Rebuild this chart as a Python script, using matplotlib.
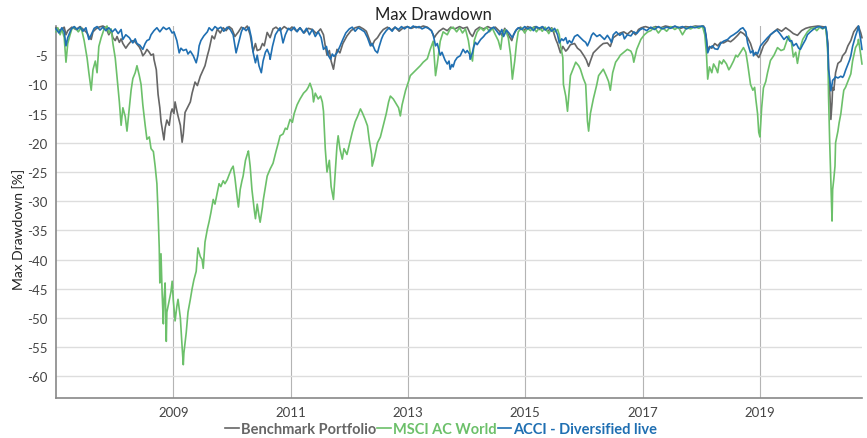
import numpy as np
import matplotlib.pyplot as plt

plt.rcParams['font.family'] = ['Lato', 'DejaVu Sans']

# series names / colours
names = ['Benchmark Portfolio', 'MSCI AC World', 'ACCI - Diversified live']
colors = ['#666666', '#6cc06a', '#1f6fb2']

# MSCI AC World drawdown (decimal year, %)
msci_t = [2007.00, 2007.03, 2007.07, 2007.10, 2007.14, 2007.17, 2007.20, 2007.24, 2007.27, 2007.32,
          2007.38, 2007.43, 2007.48, 2007.53, 2007.56, 2007.60, 2007.63, 2007.67, 2007.70, 2007.73,
          2007.77, 2007.82, 2007.87, 2007.90, 2007.94, 2007.97,
          2008.01, 2008.04, 2008.08, 2008.11, 2008.14, 2008.18, 2008.21, 2008.25, 2008.28, 2008.31,
          2008.35, 2008.38, 2008.42, 2008.45, 2008.48, 2008.52, 2008.55, 2008.59, 2008.62, 2008.66,
          2008.69, 2008.72, 2008.74, 2008.76, 2008.77, 2008.79, 2008.81, 2008.83, 2008.84, 2008.86,
          2008.88, 2008.89, 2008.93, 2008.96, 2008.98,
          2009.00, 2009.03, 2009.06, 2009.08, 2009.12, 2009.15, 2009.17, 2009.18, 2009.22, 2009.25,
          2009.29, 2009.32, 2009.35, 2009.39, 2009.42, 2009.46, 2009.49, 2009.51, 2009.54, 2009.58,
          2009.61, 2009.64, 2009.68, 2009.71, 2009.75, 2009.78, 2009.81, 2009.85, 2009.88, 2009.92,
          2009.95, 2009.99,
          2010.02, 2010.05, 2010.09, 2010.11, 2010.14, 2010.17, 2010.19, 2010.23, 2010.26, 2010.28,
          2010.31, 2010.34, 2010.38, 2010.40, 2010.43, 2010.46, 2010.48, 2010.52, 2010.53, 2010.57,
          2010.60, 2010.65, 2010.70, 2010.75, 2010.79, 2010.82, 2010.87, 2010.91, 2010.94, 2010.99,
          2011.03, 2011.06, 2011.11, 2011.16, 2011.22, 2011.27, 2011.30, 2011.33, 2011.37, 2011.39,
          2011.42, 2011.47, 2011.51, 2011.54, 2011.56, 2011.59, 2011.62, 2011.66, 2011.69, 2011.73,
          2011.76, 2011.79, 2011.81, 2011.84, 2011.88, 2011.91, 2011.96,
          2012.02, 2012.05, 2012.10, 2012.14, 2012.19, 2012.22, 2012.27, 2012.31, 2012.34, 2012.38,
          2012.39, 2012.43, 2012.48, 2012.53, 2012.58, 2012.63, 2012.67, 2012.70, 2012.75, 2012.78,
          2012.84, 2012.87, 2012.90, 2012.96,
          2013.01, 2013.04, 2013.09, 2013.14, 2013.21, 2013.26, 2013.33, 2013.38, 2013.43, 2013.47,
          2013.50, 2013.55, 2013.60, 2013.67, 2013.72, 2013.77, 2013.83, 2013.88, 2013.93, 2013.98,
          2014.03, 2014.06, 2014.10, 2014.13, 2014.18, 2014.24, 2014.29, 2014.34, 2014.39, 2014.44,
          2014.49, 2014.54, 2014.58, 2014.61, 2014.66, 2014.71, 2014.75, 2014.78, 2014.82, 2014.85,
          2014.88, 2014.94, 2014.99,
          2015.04, 2015.09, 2015.14, 2015.19, 2015.24, 2015.29, 2015.34, 2015.40, 2015.45, 2015.50,
          2015.55, 2015.58, 2015.60, 2015.64, 2015.65, 2015.69, 2015.72, 2015.75, 2015.77, 2015.81,
          2015.86, 2015.91, 2015.94, 2015.99,
          2016.03, 2016.06, 2016.08, 2016.11, 2016.16, 2016.22, 2016.25, 2016.30, 2016.33, 2016.38,
          2016.42, 2016.45, 2016.49, 2016.54, 2016.59, 2016.62, 2016.68, 2016.74, 2016.80, 2016.83,
          2016.85, 2016.90, 2016.97,
          2017.03, 2017.09, 2017.14, 2017.20, 2017.27, 2017.34, 2017.41, 2017.48, 2017.55, 2017.61,
          2017.68, 2017.75, 2017.82, 2017.89, 2017.96,
          2018.02, 2018.06, 2018.09, 2018.11, 2018.14, 2018.18, 2018.21, 2018.25, 2018.28, 2018.31,
          2018.35, 2018.38, 2018.43, 2018.47, 2018.50, 2018.55, 2018.59, 2018.62, 2018.67, 2018.72,
          2018.76, 2018.79, 2018.84, 2018.88, 2018.91, 2018.93, 2018.96, 2018.98,
          2019.00, 2019.03, 2019.06, 2019.10, 2019.13, 2019.18, 2019.24, 2019.30, 2019.36, 2019.41,
          2019.46, 2019.49, 2019.54, 2019.57, 2019.61, 2019.64, 2019.68, 2019.73, 2019.78, 2019.81,
          2019.86, 2019.92, 2019.97,
          2020.02, 2020.07, 2020.12, 2020.14, 2020.16, 2020.17, 2020.19, 2020.21, 2020.23, 2020.24,
          2020.26, 2020.28, 2020.29, 2020.33, 2020.35, 2020.38, 2020.41, 2020.43, 2020.46, 2020.50,
          2020.55, 2020.58, 2020.63, 2020.67, 2020.68, 2020.72, 2020.74]
msci_dd = [-1.0, -0.3, -1.5, -0.5, -2.0, -6.2, -3.0, -1.5, -0.5, -0.2,
           -1.0, -0.3, -2.5, -5.5, -8.0, -11.0, -7.5, -6.0, -8.0, -3.5,
           -2.0, -0.5, 0.0, -1.2, -0.5, -3.0,
           -5.5, -8.7, -13.0, -17.0, -14.0, -15.5, -18.0, -14.0, -11.0, -9.0,
           -8.0, -6.8, -8.5, -10.0, -13.5, -17.0, -19.4, -19.0, -21.0, -21.5,
           -24.0, -27.0, -32.0, -38.0, -44.0, -39.0, -46.0, -51.0, -47.0, -44.0,
           -54.0, -49.0, -47.0, -45.5, -43.7,
           -47.0, -50.5, -48.0, -46.8, -50.0, -55.0, -58.0, -56.0, -52.5, -49.0,
           -46.8, -45.0, -43.5, -42.0, -38.0, -39.5, -40.0, -41.5, -37.0, -34.8,
           -33.5, -32.0, -29.7, -30.5, -28.5, -27.0, -27.5, -26.5, -27.0, -26.3,
           -25.5, -24.5,
           -24.0, -26.0, -29.5, -31.0, -28.0, -26.5, -25.7, -23.0, -22.0, -21.4,
           -24.0, -28.0, -31.5, -33.0, -30.5, -32.5, -33.6, -31.0, -30.0, -27.5,
           -25.7, -24.5, -23.5, -21.5, -20.0, -18.8, -18.5, -17.5, -17.7, -16.0,
           -16.5, -15.0, -13.5, -12.5, -11.5, -11.0, -10.5, -9.8, -11.0, -13.0,
           -11.5, -12.5, -12.0, -13.0, -14.6, -21.0, -25.0, -23.0, -27.5, -29.7,
           -25.0, -20.5, -18.8, -21.0, -22.8, -21.0, -22.0,
           -19.5, -18.2, -16.4, -15.5, -14.2, -14.8, -16.0, -17.1, -19.5, -22.0,
           -24.0, -22.5, -20.0, -19.0, -17.0, -15.0, -13.0, -12.0, -12.5, -13.0,
           -14.0, -15.4, -13.5, -11.0,
           -9.5, -8.5, -8.0, -7.5, -6.8, -6.2, -5.6, -4.0, -2.6, -8.5,
           -6.5, -2.6, -1.0, -1.5, -0.5, -0.2, -1.0, -0.3, -1.2, -0.5,
           -2.5, -4.5, -6.0, -2.5, -1.0, -0.3, -0.8, -0.2, -1.0, -0.4,
           -1.5, -2.5, -4.0, -1.5, -0.6, -2.0, -5.0, -9.1, -6.0, -3.0,
           -1.0, -0.3, -1.2,
           -0.4, -0.8, -0.2, -1.0, -0.3, -0.9, -0.2, -1.3, -0.4, -1.0,
           -0.6, -1.5, -3.3, -5.4, -10.0, -12.0, -14.6, -11.0, -8.5, -7.5,
           -6.2, -6.8, -7.4, -9.0,
           -10.0, -16.3, -18.0, -15.0, -12.5, -10.0, -8.5, -7.8, -7.4, -8.5,
           -9.5, -11.0, -8.0, -6.2, -5.5, -5.0, -4.5, -4.0, -4.3, -5.0,
           -6.2, -4.0, -2.3,
           -1.5, -1.0, -0.8, -0.2, -1.2, -0.3, -0.9, -0.1, -0.6, -0.2,
           -1.5, -0.3, -0.5, -0.1, -0.4,
           0.0, -1.5, -5.0, -9.1, -7.0, -8.0, -6.5, -7.2, -8.0, -6.0,
           -6.5, -5.8, -6.5, -7.5, -7.0, -6.0, -5.0, -5.3, -4.5, -3.7,
           -4.5, -6.4, -10.0, -11.0, -10.5, -12.5, -15.0, -18.2,
           -19.0, -14.0, -10.6, -9.5, -8.0, -5.9, -5.0, -3.7, -4.2, -4.0,
           -2.5, -1.7, -3.0, -5.3, -4.5, -6.4, -4.0, -2.3, -1.5, -1.0,
           -0.5, -0.3, -0.8,
           -0.2, -0.5, -0.2, -2.0, -5.3, -12.0, -20.0, -27.0, -33.4, -28.0,
           -26.2, -24.0, -20.0, -18.0, -16.6, -15.0, -12.5, -11.0, -10.5, -9.5,
           -8.2, -6.0, -3.7, -3.0, -2.3, -5.0, -6.5]

# Benchmark Portfolio drawdown
bench_t = [2007.00, 2007.07, 2007.14, 2007.17, 2007.20, 2007.27, 2007.34, 2007.41, 2007.48, 2007.53,
           2007.56, 2007.60, 2007.63, 2007.68, 2007.73, 2007.80, 2007.85, 2007.90, 2007.94, 2007.97,
           2008.01, 2008.04, 2008.08, 2008.11, 2008.14, 2008.19, 2008.23, 2008.28, 2008.33, 2008.37,
           2008.42, 2008.45, 2008.48, 2008.52, 2008.55, 2008.59, 2008.62, 2008.66, 2008.67, 2008.71,
           2008.74, 2008.77, 2008.79, 2008.83, 2008.84, 2008.86, 2008.89, 2008.93, 2008.96, 2008.98,
           2009.01, 2009.03, 2009.06, 2009.08, 2009.12, 2009.15, 2009.17, 2009.20, 2009.24, 2009.29,
           2009.32, 2009.37, 2009.41, 2009.46, 2009.51, 2009.54, 2009.58, 2009.61, 2009.66, 2009.70,
           2009.75, 2009.80, 2009.85, 2009.90, 2009.95,
           2010.00, 2010.05, 2010.11, 2010.16, 2010.21, 2010.26, 2010.31, 2010.36, 2010.40, 2010.43,
           2010.48, 2010.52, 2010.55, 2010.60, 2010.65, 2010.70, 2010.75, 2010.82, 2010.89, 2010.96,
           2011.03, 2011.10, 2011.16, 2011.23, 2011.30, 2011.37, 2011.44, 2011.51, 2011.56, 2011.59,
           2011.62, 2011.66, 2011.69, 2011.73, 2011.76, 2011.79, 2011.84, 2011.89, 2011.96,
           2012.03, 2012.10, 2012.17, 2012.24, 2012.29, 2012.32, 2012.36, 2012.39, 2012.43, 2012.48,
           2012.53, 2012.58, 2012.65, 2012.72, 2012.78, 2012.85, 2012.92, 2012.99,
           2013.06, 2013.13, 2013.19, 2013.26, 2013.33, 2013.40, 2013.45, 2013.48, 2013.53, 2013.60,
           2013.67, 2013.73, 2013.80, 2013.88, 2013.94,
           2014.01, 2014.06, 2014.10, 2014.15, 2014.22, 2014.29, 2014.36, 2014.42, 2014.49, 2014.56,
           2014.60, 2014.65, 2014.71, 2014.77, 2014.80, 2014.85, 2014.92, 2014.97,
           2015.04, 2015.11, 2015.17, 2015.24, 2015.31, 2015.38, 2015.45, 2015.48, 2015.52, 2015.55,
           2015.60, 2015.64, 2015.69, 2015.72, 2015.77, 2015.84, 2015.89, 2015.94,
           2016.00, 2016.04, 2016.08, 2016.11, 2016.16, 2016.22, 2016.28, 2016.33, 2016.40, 2016.45,
           2016.50, 2016.57, 2016.62, 2016.68, 2016.74, 2016.81, 2016.88, 2016.93, 2016.98,
           2017.05, 2017.14, 2017.22, 2017.31, 2017.39, 2017.48, 2017.56, 2017.65, 2017.73, 2017.82,
           2017.90, 2017.99,
           2018.04, 2018.08, 2018.11, 2018.14, 2018.18, 2018.23, 2018.28, 2018.33, 2018.38, 2018.45,
           2018.50, 2018.55, 2018.62, 2018.67, 2018.72, 2018.79, 2018.84, 2018.89, 2018.95, 2018.98,
           2019.01, 2019.06, 2019.13, 2019.18, 2019.24, 2019.30, 2019.37, 2019.44, 2019.51, 2019.57,
           2019.64, 2019.71, 2019.78, 2019.85, 2019.92, 2019.99,
           2020.05, 2020.12, 2020.16, 2020.17, 2020.19, 2020.21, 2020.23, 2020.24, 2020.26, 2020.29,
           2020.33, 2020.38, 2020.41, 2020.46, 2020.50, 2020.55, 2020.60, 2020.65, 2020.68, 2020.72,
           2020.74]
bench_dd = [-0.3, -0.8, -0.2, -1.5, -0.8, -0.2, -0.6, -0.1, -0.7, -1.2,
            -1.8, -2.3, -1.0, -0.5, -0.2, 0.0, -0.3, -1.5, -0.8, -2.0,
            -2.5, -1.8, -2.8, -2.2, -3.0, -3.8, -3.2, -2.6, -2.5, -3.0,
            -3.6, -4.2, -5.1, -4.6, -4.0, -4.5, -5.0, -4.8, -5.7, -7.5,
            -11.7, -14.0, -16.3, -18.9, -19.5, -17.5, -16.1, -17.0, -14.8, -14.2,
            -15.0, -13.0, -14.5, -15.4, -17.0, -19.9, -18.5, -14.8, -14.0, -13.0,
            -11.5, -9.6, -10.2, -8.6, -7.5, -6.8, -5.1, -4.0, -1.7, -2.2,
            -0.5, -1.2, -0.3, -0.8, -0.1,
            -0.5, -1.8, -1.0, -0.2, -0.5, 0.0, -1.5, -4.4, -3.0, -4.2,
            -4.0, -3.0, -3.4, -1.1, -2.0, -0.5, -0.2, -0.8, -0.1, -0.6,
            -0.2, -0.9, -0.3, -1.2, -0.4, -0.6, -1.3, -0.5, -1.5, -3.4,
            -5.0, -4.2, -6.0, -7.4, -5.5, -4.0, -4.6, -3.0, -1.7,
            -0.8, -0.3, -0.1, -0.5, -0.9, -1.7, -2.8, -3.4, -2.5, -2.0,
            -1.2, -0.6, -0.2, -0.7, -0.2, -0.9, -0.3, -0.1,
            -0.4, -0.1, -0.3, 0.0, -0.2, -0.8, -2.0, -1.5, -0.9, -0.4,
            -0.8, -0.2, -0.5, -0.1, -0.4,
            -0.2, -1.3, -1.8, -0.7, -0.2, -0.5, -0.1, -0.4, -0.2, -0.9,
            -1.6, -0.4, -1.5, -2.5, -1.5, -0.6, -0.2, -0.8,
            -0.1, -0.4, -0.1, -0.6, -0.2, -0.9, -0.3, -1.0, -2.3, -3.0,
            -4.6, -3.5, -4.3, -4.0, -3.2, -3.0, -3.8, -4.2,
            -5.1, -5.8, -6.9, -6.0, -4.6, -4.0, -3.4, -3.0, -2.9, -3.5,
            -2.0, -1.5, -1.2, -1.0, -1.4, -0.8, -1.5, -0.6, -0.3,
            -0.1, -0.4, -0.1, -0.3, 0.0, -0.2, -0.1, -0.4, -0.1, -0.2,
            0.0, -0.1,
            0.0, -1.5, -4.3, -3.5, -3.8, -3.0, -3.4, -2.8, -2.9, -2.5,
            -2.7, -2.3, -1.6, -1.0, -1.3, -2.0, -3.0, -4.6, -5.0, -5.4,
            -4.8, -3.4, -2.5, -1.5, -1.0, -0.5, -0.9, -0.3, -0.8, -1.3,
            -1.6, -0.8, -0.4, -0.2, -0.1, 0.0,
            -0.1, -0.2, -3.0, -7.0, -11.0, -16.0, -13.0, -10.5, -11.0, -8.0,
            -6.4, -6.0, -5.1, -4.5, -3.4, -2.5, -1.0, -0.3, 0.0, -1.2,
            -2.0]

# ACCI - Diversified live drawdown
acci_t = [2007.00, 2007.05, 2007.10, 2007.14, 2007.17, 2007.20, 2007.26, 2007.31, 2007.36, 2007.41,
          2007.46, 2007.51, 2007.56, 2007.60, 2007.65, 2007.70, 2007.75, 2007.80, 2007.85, 2007.90,
          2007.96,
          2008.01, 2008.06, 2008.11, 2008.14, 2008.19, 2008.25, 2008.28, 2008.31, 2008.35, 2008.38,
          2008.43, 2008.48, 2008.52, 2008.55, 2008.59, 2008.62, 2008.67, 2008.72, 2008.77, 2008.83,
          2008.88, 2008.93, 2008.98,
          2009.01, 2009.06, 2009.10, 2009.13, 2009.17, 2009.22, 2009.25, 2009.29, 2009.34, 2009.37,
          2009.39, 2009.42, 2009.44, 2009.47, 2009.52, 2009.58, 2009.61, 2009.66, 2009.71, 2009.76,
          2009.81, 2009.86, 2009.92, 2009.97,
          2010.02, 2010.07, 2010.11, 2010.16, 2010.19, 2010.24, 2010.29, 2010.33, 2010.36, 2010.40,
          2010.43, 2010.46, 2010.50, 2010.53, 2010.57, 2010.60, 2010.64, 2010.65, 2010.69, 2010.74,
          2010.77, 2010.82, 2010.87, 2010.91, 2010.96,
          2011.01, 2011.06, 2011.11, 2011.16, 2011.22, 2011.27, 2011.32, 2011.37, 2011.42, 2011.47,
          2011.52, 2011.56, 2011.61, 2011.64, 2011.68, 2011.71, 2011.74, 2011.79, 2011.84, 2011.89,
          2011.94,
          2012.00, 2012.05, 2012.10, 2012.15, 2012.20, 2012.26, 2012.31, 2012.36, 2012.39, 2012.44,
          2012.48, 2012.51, 2012.55, 2012.58, 2012.63, 2012.68, 2012.73, 2012.78, 2012.84, 2012.89,
          2012.94, 2012.99,
          2013.04, 2013.09, 2013.14, 2013.19, 2013.24, 2013.30, 2013.35, 2013.40, 2013.43, 2013.47,
          2013.50, 2013.55, 2013.58, 2013.63, 2013.67, 2013.70, 2013.72, 2013.75, 2013.77, 2013.80,
          2013.84, 2013.89, 2013.94, 2013.98,
          2014.01, 2014.05, 2014.06, 2014.10, 2014.12, 2014.15, 2014.18, 2014.24, 2014.29, 2014.32,
          2014.36, 2014.41, 2014.46, 2014.51, 2014.56, 2014.60, 2014.63, 2014.68, 2014.73, 2014.78,
          2014.83, 2014.88, 2014.94, 2014.99,
          2015.04, 2015.09, 2015.14, 2015.19, 2015.24, 2015.29, 2015.34, 2015.40, 2015.45, 2015.50,
          2015.55, 2015.58, 2015.62, 2015.65, 2015.69, 2015.72, 2015.75, 2015.79, 2015.84, 2015.89,
          2015.94, 2015.99,
          2016.03, 2016.06, 2016.10, 2016.13, 2016.16, 2016.22, 2016.27, 2016.32, 2016.35, 2016.40,
          2016.44, 2016.47, 2016.50, 2016.55, 2016.61, 2016.66, 2016.69, 2016.74, 2016.80, 2016.85,
          2016.90, 2016.95,
          2017.00, 2017.07, 2017.14, 2017.20, 2017.27, 2017.34, 2017.41, 2017.48, 2017.55, 2017.61,
          2017.68, 2017.75, 2017.82, 2017.89, 2017.96,
          2018.02, 2018.06, 2018.09, 2018.11, 2018.14, 2018.19, 2018.23, 2018.28, 2018.33, 2018.38,
          2018.45, 2018.50, 2018.55, 2018.62, 2018.67, 2018.71, 2018.76, 2018.79, 2018.84, 2018.88,
          2018.89, 2018.93, 2018.96,
          2019.01, 2019.06, 2019.13, 2019.18, 2019.24, 2019.29, 2019.34, 2019.41, 2019.46, 2019.51,
          2019.54, 2019.57, 2019.62, 2019.66, 2019.69, 2019.73, 2019.78, 2019.81, 2019.86, 2019.92,
          2019.97,
          2020.02, 2020.07, 2020.12, 2020.14, 2020.16, 2020.17, 2020.19, 2020.21, 2020.23, 2020.24,
          2020.26, 2020.29, 2020.33, 2020.38, 2020.41, 2020.43, 2020.46, 2020.50, 2020.53, 2020.55,
          2020.58, 2020.63, 2020.67, 2020.68, 2020.72, 2020.74]
acci_dd = [-0.5, -1.2, -0.3, -1.0, -3.4, -2.0, -0.5, -0.1, -0.6, -0.2,
           -0.9, -0.3, -2.3, -1.5, -0.4, -0.1, -0.7, -0.2, -0.8, -0.3,
           -1.0,
           -0.5, -1.3, -0.6, -2.3, -1.5, -2.0, -2.5, -2.9, -2.2, -3.0,
           -3.3, -4.0, -3.0, -2.5, -2.3, -1.5, -0.8, -0.3, -1.0, -0.2,
           -0.6, -0.3, -1.2,
           -1.0, -2.5, -4.6, -3.8, -4.2, -4.0, -4.8, -4.3, -5.1, -5.8,
           -6.3, -5.0, -3.4, -2.5, -1.7, -1.0, -0.3, -0.8, -0.1, -0.5,
           -0.2, -0.9, -0.2, -0.6,
           -1.5, -4.6, -3.0, -1.0, -0.3, -0.8, -0.2, -2.0, -4.5, -6.3,
           -5.0, -6.8, -8.0, -6.0, -4.5, -4.0, -5.0, -5.7, -3.5, -1.5,
           -1.0, -0.3, -2.9, -1.5, -0.4,
           -0.8, -0.2, -1.0, -0.3, -1.2, -0.4, -1.5, -0.6, -1.8, -1.0,
           -2.0, -4.0, -3.5, -5.0, -5.7, -4.8, -5.2, -4.6, -3.5, -2.3,
           -1.2,
           -0.5, -0.2, -0.9, -0.3, -0.6, -1.0, -2.0, -3.4, -3.0, -4.2,
           -4.6, -3.5, -2.2, -1.5, -0.8, -0.3, -0.9, -0.2, -0.6, -0.1,
           -0.5, -0.1,
           -0.4, 0.0, -0.3, -0.1, -0.5, -0.2, -0.4, -0.8, -1.5, -3.4,
           -3.0, -5.0, -4.5, -5.8, -6.5, -6.0, -7.4, -6.6, -7.0, -6.0,
           -5.4, -5.1, -4.0, -4.6,
           -4.2, -4.8, -5.7, -4.5, -3.6, -2.8, -3.2, -2.3, -1.8, -1.4,
           -1.1, -0.5, -0.2, -0.8, -1.5, -0.6, -1.8, -0.7, -1.3, -2.0,
           -0.9, -0.3, -0.6, -0.1,
           -0.5, -0.2, -0.8, -0.1, -0.4, -0.1, -0.7, -0.2, -0.9, -0.4,
           -1.5, -2.9, -2.2, -2.5, -2.0, -3.0, -2.5, -2.9, -1.8, -1.5,
           -2.0, -2.5,
           -2.8, -3.4, -2.5, -1.6, -1.2, -1.8, -1.5, -2.0, -2.3, -1.6,
           -2.2, -2.8, -1.5, -1.0, -1.6, -1.2, -2.2, -1.5, -1.7, -1.0,
           -1.3, -0.7,
           -0.4, -0.8, -0.2, -0.6, -0.1, -0.5, -0.2, -0.4, 0.0, -0.3,
           -0.1, -0.5, -0.1, -0.3, -0.1,
           0.0, -0.3, -2.5, -4.6, -3.8, -3.4, -3.9, -4.0, -3.0, -2.6,
           -2.3, -1.8, -1.5, -1.0, -0.5, -0.3, -1.0, -2.9, -4.6, -4.2,
           -5.1, -4.5, -4.8,
           -3.4, -2.8, -2.0, -1.5, -1.0, -0.7, -1.3, -2.3, -1.8, -2.6,
           -2.5, -3.4, -3.0, -3.8, -4.0, -3.2, -2.3, -1.5, -1.0, -0.5,
           -0.2,
           -0.1, -0.4, -0.1, -1.0, -4.0, -7.4, -9.0, -11.1, -10.0, -9.3,
           -9.1, -8.7, -8.9, -8.6, -8.8, -8.5, -7.6, -6.6, -5.8, -5.1,
           -3.5, -1.7, -0.5, 0.0, -2.5, -4.0]

yticks = [-5, -10, -15, -20, -25, -30, -35, -40, -45, -50, -55, -60]
xticks = [2009, 2011, 2013, 2015, 2017, 2019]

fig = plt.figure(figsize=(8.67, 4.39), dpi=100)
ax = fig.add_axes([0.0646, 0.0911, 0.9296, 0.8474])

series = [(bench_t, bench_dd), (msci_t, msci_dd), (acci_t, acci_dd)]
for (t, dd), name, c in zip(series, names, colors):
    ax.plot(t, dd, color=c, lw=1.2, label=name, clip_on=False, zorder=3)

ax.set_xlim(2007.0, 2020.74)
ax.set_ylim(-63.7, 0)
ax.set_yticks(yticks)
ax.set_yticklabels([str(v) for v in yticks])
ax.set_xticks(xticks)
ax.set_xticklabels([str(v) for v in xticks])
ax.tick_params(length=0, labelsize=9.5, colors='#444444', pad=6)

ax.grid(axis='y', color='#dddddd', lw=1)
ax.grid(axis='x', color='#b4b4b4', lw=0.8)
ax.set_axisbelow(True)
for s in ['top', 'right']:
    ax.spines[s].set_visible(False)
for s in ['left', 'bottom']:
    ax.spines[s].set_color('#888888')
    ax.spines[s].set_linewidth(1.2)

fig.text(0.4995, 0.966, 'Max Drawdown', ha='center', va='center', fontsize=12, color='#222222')
fig.text(0.021, 0.478, 'Max Drawdown [%]', rotation=90, ha='center', va='center',
         fontsize=10, color='#222222')

leg = ax.legend(loc='center', bbox_to_anchor=(0.478, -0.083), ncol=3, frameon=False,
                handlelength=0.9, handletextpad=0.15, columnspacing=0.1,
                labelcolor='linecolor', prop={'size': 10.5, 'weight': 'bold'})

fig.savefig('out.png', dpi=100)
